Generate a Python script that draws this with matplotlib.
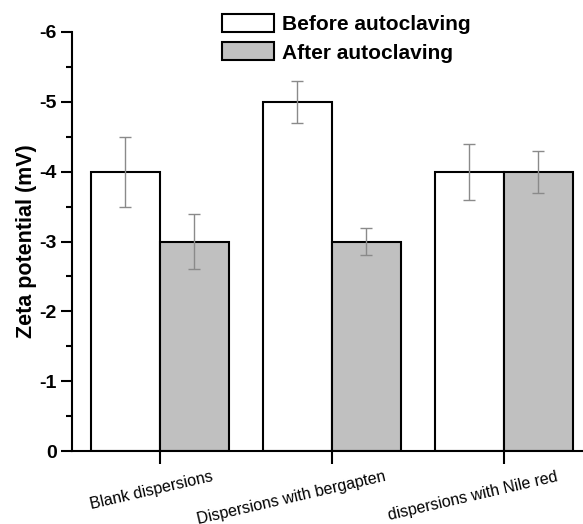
import numpy as np
import matplotlib
matplotlib.use("Agg")
import matplotlib.pyplot as plt
import matplotlib.transforms as mtransforms

plt.rcParams['font.family'] = ['Liberation Sans', 'DejaVu Sans']

### Données ###
groups = ["Blank dispersions", "Dispersions with bergapten", "dispersions with Nile red"]
before = [-4.0, -5.0, -4.0]
before_err = [0.5, 0.3, 0.4]
after = [-3.0, -3.0, -4.0]
after_err = [0.4, 0.2, 0.3]

x = np.arange(1, len(groups) + 1)
w = 0.4

fig = plt.figure(figsize=(5.83, 5.24), dpi=100)
ax = fig.add_axes([72/583, 1 - 451/524, 516/583, 419/524])

ax.bar(x - w/2, before, w, color="white", edgecolor="black", linewidth=1.5,
       label="Before autoclaving", zorder=2)
ax.bar(x + w/2, after, w, color="#c0c0c0", edgecolor="black", linewidth=1.5,
       label="After autoclaving", zorder=2)
ax.errorbar(x - w/2, before, yerr=before_err, fmt="none", ecolor="#8a8a8a",
            elinewidth=1, capsize=4, capthick=1, zorder=3)
ax.errorbar(x + w/2, after, yerr=after_err, fmt="none", ecolor="#8a8a8a",
            elinewidth=1, capsize=4, capthick=1, zorder=3)

ax.set_ylim(0, -6)
ax.set_xlim(0.49, 3.49)
ax.set_yticks([0, -1, -2, -3, -4, -5, -6])
ax.set_yticklabels(["0", "-1", "-2", "-3", "-4", "-5", "-6"], fontweight="bold", fontsize=14)
ax.set_yticks(np.arange(-0.5, -6, -1), minor=True)
ax.set_xticks(x)
ax.set_xticklabels(groups, rotation=13, fontsize=11.5, ha="right")
ax.tick_params(axis="y", which="major", length=8, width=1.5, pad=3)
ax.tick_params(axis="y", which="minor", length=4, width=1.5)
ax.tick_params(axis="x", length=9, width=1.5)

# labels end a bit to the right of their tick, as in the original
shift = mtransforms.ScaledTranslation(55/100, -1/100, fig.dpi_scale_trans)
for lbl in ax.xaxis.get_majorticklabels():
    lbl.set_transform(lbl.get_transform() + shift)

for s in ["top", "right"]:
    ax.spines[s].set_visible(False)
for s in ["left", "bottom"]:
    ax.spines[s].set_linewidth(1.5)

ax.set_ylabel("Zeta potential (mV)", fontweight="bold", fontsize=15.5, labelpad=2)

ax.legend(loc="upper left", bbox_to_anchor=(222/583, 1 - 14/524),
          bbox_transform=fig.transFigure, frameon=False,
          prop={"weight": "bold", "size": 15}, handlelength=2.5,
          handleheight=0.95, handletextpad=0.4, labelspacing=0.4,
          borderaxespad=0, borderpad=0)

fig.savefig("out.png", dpi=100)
